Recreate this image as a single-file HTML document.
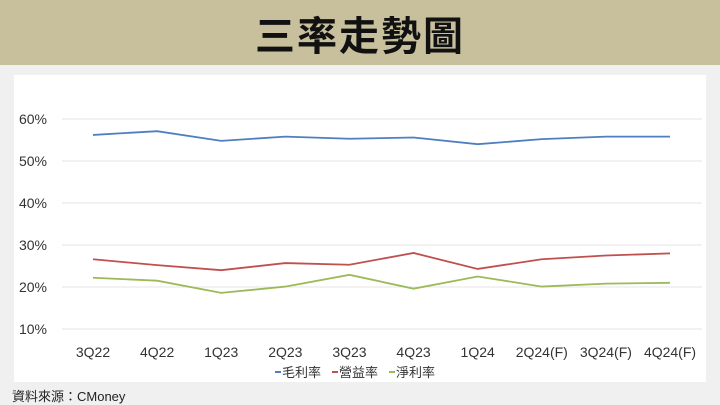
<!DOCTYPE html>
<html><head><meta charset="utf-8"><style>
body{margin:0;width:720px;height:405px;background:#f0f0f0;overflow:hidden;font-family:"Liberation Sans","Noto Sans CJK TC",sans-serif;position:relative}
#hdr{position:absolute;left:0;top:0;width:720px;height:65px;background:#c8bf9c;text-align:center;line-height:66px;font-size:40px;font-weight:bold;color:#111;font-family:"Noto Sans CJK TC",sans-serif;letter-spacing:2px}
#box{position:absolute;left:14px;top:75px;width:692px;height:307px;background:#fff}
svg{position:absolute;left:0;top:0}
#src{position:absolute;left:12px;top:386px;font-size:13px;color:#222}
</style></head><body>
<div id="hdr">三率走勢圖</div>
<div id="box"></div>
<svg id="c" width="720" height="405"></svg>
<div id="src">資料來源：CMoney</div>
<script>
const categories=["3Q22","4Q22","1Q23","2Q23","3Q23","4Q23","1Q24","2Q24(F)","3Q24(F)","4Q24(F)"];
const gross=[56.2,57.1,54.8,55.8,55.3,55.6,54.0,55.2,55.8,55.8];
const operating=[26.6,25.2,24.0,25.7,25.3,28.1,24.3,26.6,27.5,28.0];
const net=[22.2,21.5,18.6,20.1,22.9,19.6,22.5,20.1,20.8,21.0];
const yTicks=[10,20,30,40,50,60];
const seriesNames=["毛利率","營益率","淨利率"];
const colors=["#4f7fc0","#c0504d","#9bbb59"];
const NS="http://www.w3.org/2000/svg",svg=document.getElementById('c');
const x=i=>93+i*(670-93)/(categories.length-1);
const y=v=>329-(v-10)*4.2;
function mk(t,a){const e=document.createElementNS(NS,t);for(const k in a)e.setAttribute(k,a[k]);svg.appendChild(e);return e;}
yTicks.forEach(v=>{
 const l=mk('line',{x1:62,x2:702,y1:y(v),y2:y(v),stroke:'#e6e6e6','stroke-width':1});
 
 
 const t=mk('text',{x:47,y:y(v)+5,'text-anchor':'end','font-size':14,fill:'#333','font-family':'Liberation Sans, sans-serif'});
 t.textContent=v+'%';
 
 
});
categories.forEach((c,i)=>{
 const t=mk('text',{x:x(i),y:357,'text-anchor':'middle','font-size':14,fill:'#333','font-family':'Liberation Sans, sans-serif'});
 t.textContent=c;
 
 
});
[gross,operating,net].forEach((s,k)=>{
 const p=mk('polyline',{points:s.map((v,i)=>x(i)+','+y(v)).join(' '),fill:'none',stroke:colors[k],'stroke-width':1.8});
 
 
});
let lx=275;
seriesNames.forEach((n,k)=>{
 const l=mk('line',{x1:lx,x2:lx+6,y1:372,y2:372,stroke:colors[k],'stroke-width':2});
 
 
 const t=mk('text',{x:lx+7,y:377,'font-size':13,fill:'#333','font-family':'Noto Sans CJK TC, sans-serif'});
 t.textContent=n;
 
 
 lx+=57;
});
</script>
</body></html>
